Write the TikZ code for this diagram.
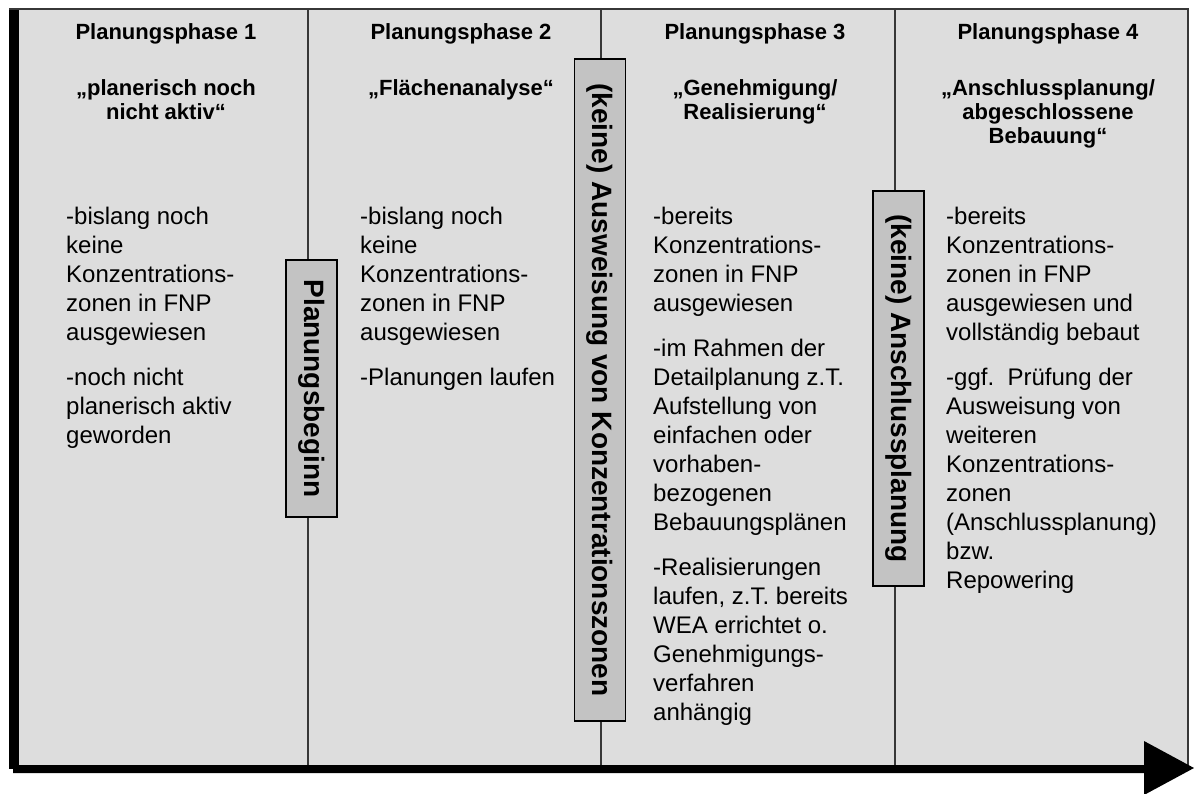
\documentclass[tikz,border=0pt]{standalone}
\usepackage{fontspec}
\setmainfont{Liberation Sans}
\definecolor{panel}{RGB}{221,221,221}
\definecolor{markerfill}{RGB}{195,195,195}
\definecolor{rulegray}{RGB}{55,55,55}
\newcommand\leftblock[1]{\begin{tabular}[t]{@{}l@{}}#1\end{tabular}}
\newcommand\centerblock[1]{\begin{tabular}[t]{@{}c@{}}#1\end{tabular}}

\begin{document}
\begin{tikzpicture}[x=1pt,y=-1pt,
  phase/.style={anchor=base,inner sep=0pt,font=\bfseries\fontsize{22}{24}\selectfont},
  body/.style={anchor=base west,inner sep=0pt,font=\fontsize{24}{29}\selectfont},
  milestone/.style={draw=black,line width=1.4pt,fill=markerfill,rotate=-90,
    inner sep=0pt,minimum height=51pt,font=\bfseries\fontsize{28}{30}\selectfont},
  divider/.style={draw=rulegray,line width=1.2pt}]
\useasboundingbox (0,0) rectangle (1194,794);

% panel with its frame
\fill[panel] (19,9) rectangle (1188,765);
\draw[rulegray,line width=1.5pt] (9,9) -- (1188,9) -- (1188,765);

% column dividers
\coordinate (d1t) at (308,9);  \coordinate (d1b) at (308,765);
\coordinate (d2t) at (601,9);  \coordinate (d2b) at (601,765);
\coordinate (d3t) at (895,9);  \coordinate (d3b) at (895,765);
\draw[divider] (d1t) -- (d1b);
\draw[divider] (d2t) -- (d2b);
\draw[divider] (d3t) -- (d3b);

% time axis: left bar, bottom bar and arrowhead
\fill[black] (9,10) rectangle (19,769);
\fill[black] (13,765) -- (1144,765) -- (1144,741) -- (1194,768)
  -- (1144,795) -- (1144,773) -- (13,773) -- cycle;

% phase headings
\node[phase] (h1) at (166,40) {Planungsphase 1};
\node[phase] (h2) at (461,40) {Planungsphase 2};
\node[phase] (h3) at (755,40) {Planungsphase 3};
\node[phase] (h4) at (1048,40) {Planungsphase 4};

\node[phase] (s1) at (166,96) {\centerblock{„planerisch noch\\nicht aktiv“}};
\node[phase] (s2) at (461,96) {\centerblock{„Flächenanalyse“}};
\node[phase] (s3) at (755,96) {\centerblock{„Genehmigung/\\Realisierung“}};
\node[phase] (s4) at (1048,96) {\centerblock{„Anschlussplanung/\\abgeschlossene\\Bebauung“}};

% phase descriptions
\node[body] (t1) at (66,225) {\leftblock{-bislang noch\\keine\\Konzentrations-\\zonen in FNP\\ausgewiesen\\[16pt]
-noch nicht\\planerisch aktiv\\geworden}};
\node[body] (t2) at (360,225) {\leftblock{-bislang noch\\keine\\Konzentrations-\\zonen in FNP\\ausgewiesen\\[16pt]
-Planungen laufen}};
\node[body] (t3) at (653,225) {\leftblock{-bereits\\Konzentrations-\\zonen in FNP\\ausgewiesen\\[16pt]
-im Rahmen der\\Detailplanung z.T.\\Aufstellung von\\einfachen oder\\vorhaben-\\bezogenen\\Bebauungsplänen\\[16pt]
-Realisierungen\\laufen, z.T. bereits\\WEA errichtet o.\\Genehmigungs-\\verfahren\\anhängig}};
\node[body] (t4) at (946,225) {\leftblock{-bereits\\Konzentrations-\\zonen in FNP\\ausgewiesen und\\vollständig bebaut\\[16pt]
-ggf.\ \ Prüfung der\\Ausweisung von\\weiteren\\Konzentrations-\\zonen\\(Anschlussplanung)\\bzw.\\Repowering}};

% milestones on the phase boundaries
\node[milestone,minimum width=257pt] (m1) at (311.5,388.5) {Planungsbeginn};
\node[milestone,minimum width=662pt] (m2) at (600,390) {(keine) Ausweisung von Konzentrationszonen};
\node[milestone,minimum width=395pt] (m3) at (898.5,388.5) {(keine) Anschlussplanung};
\end{tikzpicture}
\end{document}
